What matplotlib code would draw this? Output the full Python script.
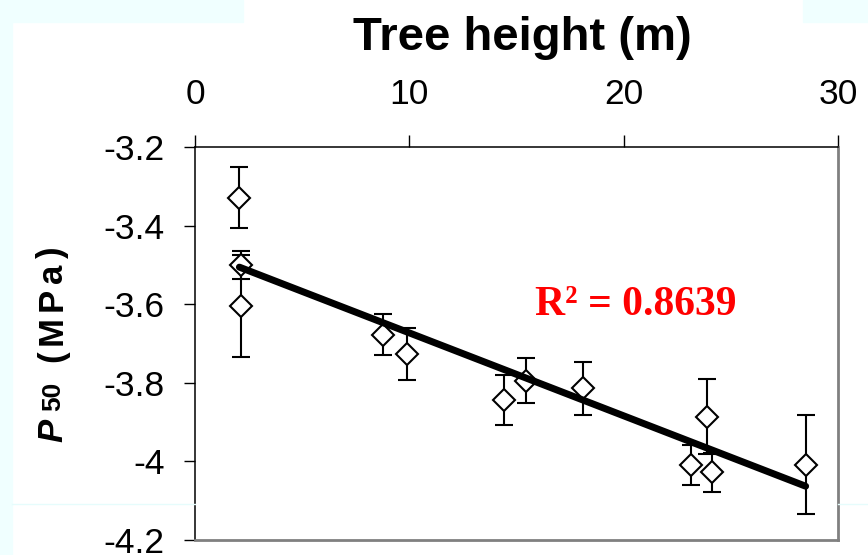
import numpy as np
import matplotlib
matplotlib.use("Agg")
import matplotlib.pyplot as plt
from matplotlib.patches import Rectangle
from matplotlib.lines import Line2D
from matplotlib.ticker import FormatStrFormatter

plt.rcParams["font.family"] = ["Liberation Sans", "DejaVu Sans"]
plt.rcParams["axes.unicode_minus"] = False

# data
height = [2.07, 2.15, 2.16, 8.76, 9.89, 14.42, 15.45, 18.12, 23.13, 23.88, 24.11, 28.49]
p50 = [-3.329, -3.500, -3.605, -3.678, -3.727, -3.844, -3.795, -3.814, -4.009, -3.886, -4.028, -4.008]
p50_err = [0.077, 0.035, 0.13, 0.052, 0.067, 0.064, 0.057, 0.067, 0.052, 0.095, 0.049, 0.126]

# trend line as shown in the figure
fit_slope = -0.0211
fit_intercept = -3.462
r2_label = "R\u00b2 = 0.8639"

x_ticks = [0, 10, 20, 30]
y_ticks = [-4.2, -4.0, -3.8, -3.6, -3.4, -3.2]

W, H = 868, 555
fig = plt.figure(figsize=(W / 100, H / 100), dpi=100)
fig.patch.set_facecolor("white")

# pale cyan bits of the slide background
bg = "#F0FFFF"
fig.patches.append(Rectangle((0, 0), 12 / W, 1, transform=fig.transFigure,
                             color=bg, zorder=0))
fig.patches.append(Rectangle((0, 1 - 22 / H), 243 / W, 22 / H,
                             transform=fig.transFigure, color=bg, zorder=0))
fig.patches.append(Rectangle((803 / W, 1 - 22 / H), 65 / W, 22 / H,
                             transform=fig.transFigure, color=bg, zorder=0))
yl = 1 - 504 / H
fig.lines.append(Line2D([12 / W, 195 / W], [yl, yl], transform=fig.transFigure,
                        color="#E6FCFC", lw=1))
fig.lines.append(Line2D([838 / W, 1], [yl, yl], transform=fig.transFigure,
                        color="#E6FCFC", lw=1))

ax = fig.add_axes([195 / W, 15 / H, 643 / W, 393 / H])
ax.set_facecolor("white")

ax.errorbar(height, p50, yerr=p50_err, fmt="D", ms=11.5, mfc="white", mec="black",
            mew=1.5, ecolor="black", elinewidth=1.5, capsize=6.5, capthick=1.5,
            zorder=3)

xs = np.array([min(height), max(height)])
ax.plot(xs, fit_intercept + fit_slope * xs, color="black", lw=5,
        solid_capstyle="round", zorder=4)

ax.text(20.58, -3.6275, r2_label, color="red", fontsize=30, fontweight="bold",
        family="Liberation Serif", ha="center", va="baseline")

ax.set_xlim(0, 30)
ax.set_ylim(-4.2, -3.2)
ax.set_xticks(x_ticks)
ax.set_yticks(y_ticks)
ax.yaxis.set_major_formatter(FormatStrFormatter("%g"))

ax.xaxis.tick_top()
ax.tick_params(axis="x", direction="out", length=9, width=1, labelsize=25.5, pad=17)
ax.tick_params(axis="y", direction="out", length=8, width=1, labelsize=25.5, pad=14)

for side in ["left", "top"]:
    ax.spines[side].set_color("black")
    ax.spines[side].set_linewidth(1.1)
for side in ["right", "bottom"]:
    ax.spines[side].set_color("#808080")
    ax.spines[side].set_linewidth(2)

fig.text(522 / W, 1 - 50 / H, "Tree height (m)", fontsize=34, fontweight="bold",
         ha="center", va="baseline")

# y label built piece by piece: italic P, smaller 50, spaced (MPa)
renderer = fig.canvas.get_renderer()
pieces = [("P", "italic", 25, 8), ("50", "normal", 19, 20), ("(", "normal", 25, 5),
          ("M", "normal", 25, 5), ("P", "normal", 25, 5), ("a", "normal", 25, 5),
          (")", "normal", 25, 0)]
base_x = 62
pos_y = H - 442
for s, style, size, gap in pieces:
    bx = base_x - 2 if s == "50" else base_x
    t = fig.text(bx / W, pos_y / H, s, fontsize=size, fontweight="bold", style=style,
                 rotation=90, rotation_mode="anchor", ha="left", va="baseline")
    ext = t.get_window_extent(renderer)
    pos_y += ext.height + gap

fig.savefig("out.png", dpi=100)
